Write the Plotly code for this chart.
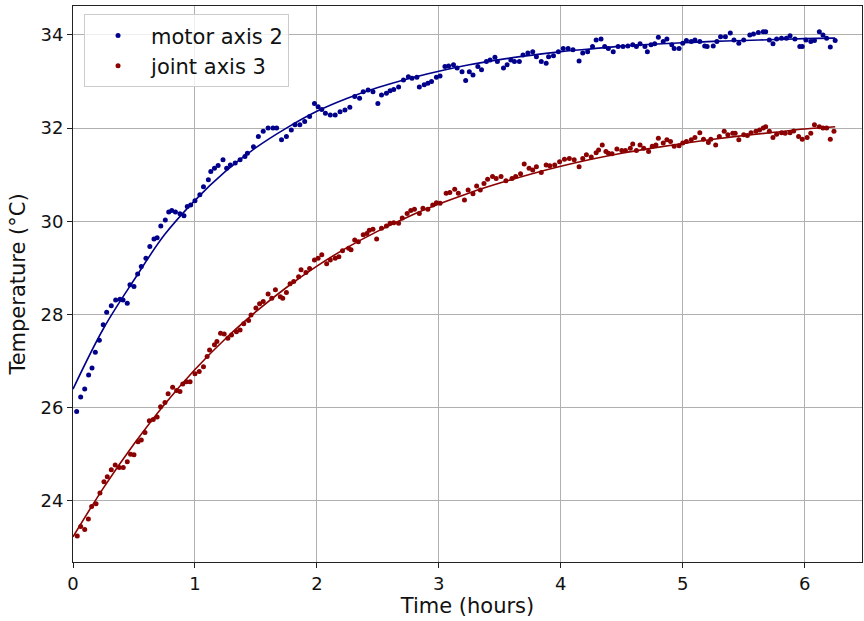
import plotly.graph_objects as go

# Logged temperatures (hours, °C)
motor_t = [0.03, 0.063, 0.096, 0.128, 0.156, 0.183, 0.216, 0.248, 0.276, 0.314, 0.35, 0.385, 0.41, 0.445,
           0.467, 0.5, 0.53, 0.56, 0.598, 0.63, 0.664, 0.69, 0.72, 0.757, 0.785, 0.81, 0.84, 0.877, 0.91,
           0.937, 0.965, 1.0, 1.04, 1.07, 1.11, 1.13, 1.16, 1.19, 1.23, 1.26, 1.29, 1.33, 1.37, 1.41, 1.43,
           1.48, 1.52, 1.56, 1.60, 1.64, 1.67, 1.71, 1.75, 1.79, 1.82, 1.86, 1.90, 1.94, 1.98, 2.01, 2.04,
           2.07, 2.11, 2.15, 2.19, 2.23, 2.27, 2.31, 2.35, 2.38, 2.42, 2.46, 2.50, 2.53, 2.57, 2.60, 2.63,
           2.67, 2.71, 2.75, 2.78, 2.82, 2.84, 2.88, 2.91, 2.94, 2.98, 3.01, 3.05, 3.08, 3.12, 3.15, 3.19,
           3.22, 3.25, 3.28, 3.32, 3.35, 3.39, 3.42, 3.46, 3.48, 3.53, 3.56, 3.59, 3.62, 3.66, 3.69, 3.73,
           3.77, 3.80, 3.84, 3.88, 3.90, 3.94, 3.98, 4.02, 4.06, 4.10, 4.15, 4.18, 4.22, 4.26, 4.29, 4.33,
           4.36, 4.39, 4.43, 4.47, 4.51, 4.55, 4.59, 4.62, 4.65, 4.69, 4.71, 4.74, 4.77, 4.80, 4.84, 4.87,
           4.91, 4.93, 4.97, 5.00, 5.03, 5.07, 5.10, 5.14, 5.18, 5.20, 5.25, 5.28, 5.31, 5.35, 5.39, 5.42,
           5.46, 5.50, 5.55, 5.58, 5.62, 5.66, 5.68, 5.71, 5.74, 5.77, 5.81, 5.85, 5.88, 5.92, 5.96, 5.98,
           6.01, 6.05, 6.08, 6.12, 6.15, 6.18, 6.21, 6.25]
motor_temp = [25.92, 26.23, 26.40, 26.70, 26.85, 27.19, 27.45, 27.78, 28.05, 28.19, 28.31, 28.33, 28.31, 28.24,
              28.64, 28.60, 28.87, 29.03, 29.21, 29.46, 29.62, 29.65, 29.90, 30.03, 30.20, 30.23, 30.20, 30.16,
              30.12, 30.32, 30.35, 30.44, 30.57, 30.74, 30.89, 31.07, 31.14, 31.20, 31.32, 31.14, 31.21, 31.25,
              31.32, 31.39, 31.46, 31.60, 31.82, 31.93, 32.00, 32.00, 32.00, 31.75, 31.82, 31.96, 32.07, 32.07,
              32.14, 32.25, 32.53, 32.46, 32.40, 32.32, 32.28, 32.28, 32.35, 32.39, 32.45, 32.68, 32.64, 32.78,
              32.82, 32.78, 32.53, 32.71, 32.75, 32.80, 32.83, 32.88, 33.03, 33.10, 33.07, 33.09, 32.88, 32.93,
              32.96, 33.00, 33.09, 33.12, 33.32, 33.33, 33.36, 33.29, 33.21, 33.02, 33.21, 33.14, 33.32, 33.25,
              33.43, 33.46, 33.52, 33.43, 33.29, 33.36, 33.46, 33.43, 33.43, 33.57, 33.61, 33.64, 33.53, 33.43,
              33.39, 33.53, 33.55, 33.64, 33.71, 33.71, 33.68, 33.44, 33.61, 33.64, 33.75, 33.89, 33.91, 33.75,
              33.71, 33.64, 33.75, 33.75, 33.76, 33.79, 33.75, 33.81, 33.75, 33.64, 33.79, 33.81, 33.95, 33.86,
              33.91, 33.79, 33.71, 33.71, 33.82, 33.88, 33.86, 33.89, 33.86, 33.76, 33.75, 33.76, 33.86, 33.96,
              33.96, 34.04, 33.89, 33.82, 33.89, 34.00, 34.02, 34.05, 34.07, 34.07, 33.89, 33.81, 33.91, 33.93,
              33.93, 33.98, 33.91, 33.75, 33.75, 33.89, 33.86, 33.88, 34.07, 34.00, 33.93, 33.74, 33.88]

joint_t = [0.035, 0.063, 0.096, 0.126, 0.153, 0.189, 0.221, 0.254, 0.281, 0.314, 0.346, 0.379, 0.412, 0.445,
           0.472, 0.50, 0.533, 0.56, 0.59, 0.626, 0.658, 0.69, 0.718, 0.754, 0.78, 0.817, 0.85, 0.877, 0.90,
           0.93, 0.96, 1.00, 1.035, 1.07, 1.10, 1.12, 1.16, 1.18, 1.21, 1.24, 1.27, 1.30, 1.34, 1.37, 1.40,
           1.44, 1.46, 1.50, 1.53, 1.56, 1.60, 1.63, 1.66, 1.70, 1.72, 1.75, 1.78, 1.81, 1.85, 1.87, 1.91,
           1.94, 1.98, 2.01, 2.04, 2.08, 2.11, 2.15, 2.18, 2.21, 2.26, 2.28, 2.31, 2.34, 2.38, 2.41, 2.43,
           2.46, 2.49, 2.53, 2.57, 2.60, 2.63, 2.67, 2.70, 2.74, 2.77, 2.80, 2.84, 2.87, 2.91, 2.95, 2.98,
           3.01, 3.06, 3.09, 3.13, 3.16, 3.21, 3.24, 3.28, 3.31, 3.34, 3.37, 3.40, 3.44, 3.47, 3.51, 3.55,
           3.60, 3.63, 3.67, 3.70, 3.74, 3.77, 3.80, 3.84, 3.88, 3.91, 3.95, 3.99, 4.03, 4.07, 4.11, 4.15,
           4.18, 4.21, 4.25, 4.29, 4.31, 4.34, 4.37, 4.39, 4.42, 4.46, 4.50, 4.53, 4.57, 4.59, 4.62, 4.65,
           4.68, 4.72, 4.75, 4.78, 4.80, 4.84, 4.87, 4.90, 4.93, 4.97, 5.00, 5.03, 5.07, 5.10, 5.14, 5.17,
           5.21, 5.23, 5.27, 5.30, 5.34, 5.37, 5.41, 5.43, 5.46, 5.50, 5.53, 5.56, 5.60, 5.63, 5.66, 5.68,
           5.71, 5.74, 5.77, 5.81, 5.84, 5.88, 5.91, 5.95, 5.98, 6.02, 6.05, 6.08, 6.12, 6.15, 6.18, 6.21, 6.24]
joint_temp = [23.25, 23.45, 23.39, 23.61, 23.88, 23.94, 24.17, 24.41, 24.52, 24.67, 24.77, 24.72, 24.72, 24.84,
              25.00, 24.99, 25.27, 25.31, 25.47, 25.72, 25.75, 25.80, 26.02, 26.11, 26.30, 26.44, 26.37, 26.35,
              26.51, 26.56, 26.56, 26.73, 26.78, 26.88, 27.10, 27.24, 27.35, 27.42, 27.60, 27.58, 27.49, 27.56,
              27.63, 27.67, 27.80, 27.87, 27.99, 28.14, 28.23, 28.28, 28.44, 28.35, 28.53, 28.38, 28.35, 28.47,
              28.66, 28.71, 28.81, 28.96, 28.90, 28.99, 29.17, 29.21, 29.28, 29.09, 29.17, 29.21, 29.24, 29.37,
              29.42, 29.39, 29.60, 29.56, 29.71, 29.74, 29.81, 29.83, 29.62, 29.85, 29.90, 29.96, 29.97, 29.96,
              30.07, 30.17, 30.23, 30.26, 30.17, 30.28, 30.26, 30.35, 30.40, 30.39, 30.60, 30.62, 30.69, 30.60,
              30.46, 30.67, 30.59, 30.76, 30.67, 30.81, 30.90, 30.96, 30.92, 30.96, 30.87, 30.92, 30.96, 31.02,
              31.23, 31.14, 31.10, 31.17, 31.05, 31.21, 31.19, 31.21, 31.28, 31.33, 31.35, 31.32, 31.17, 31.35,
              31.43, 31.38, 31.47, 31.53, 31.64, 31.50, 31.46, 31.45, 31.55, 31.52, 31.52, 31.57, 31.66, 31.52,
              31.64, 31.57, 31.50, 31.61, 31.64, 31.78, 31.68, 31.75, 31.71, 31.61, 31.62, 31.68, 31.71, 31.75,
              31.80, 31.90, 31.76, 31.69, 31.76, 31.64, 31.82, 31.93, 31.86, 31.89, 31.89, 31.75, 31.86, 31.84,
              31.90, 31.93, 31.96, 32.00, 32.03, 31.93, 31.80, 31.87, 31.90, 31.89, 31.90, 31.94, 31.82, 31.76,
              31.80, 31.89, 32.07, 32.03, 32.00, 32.00, 31.76, 31.93]

# Fitted warm-up curves
fit_t = [0.0, 0.25, 0.5, 0.75, 1.0, 1.25, 1.5, 1.75, 2.0, 2.25, 2.5, 2.75, 3.0, 3.25, 3.5, 3.75, 4.0, 4.25,
         4.5, 4.75, 5.0, 5.25, 5.5, 5.75, 6.0, 6.25]
motor_fit = [26.40, 27.70, 28.74, 29.71, 30.45, 31.07, 31.58, 32.00, 32.36, 32.64, 32.87, 33.06, 33.22, 33.36,
             33.47, 33.56, 33.64, 33.70, 33.76, 33.80, 33.83, 33.86, 33.88, 33.90, 33.92, 33.93]
joint_fit = [23.23, 24.28, 25.22, 26.07, 26.82, 27.48, 28.06, 28.58, 29.04, 29.44, 29.79, 30.10, 30.37, 30.61,
             30.82, 31.01, 31.18, 31.33, 31.46, 31.57, 31.67, 31.76, 31.84, 31.91, 31.98, 32.03]

BLUE = "#00008b"
RED = "#8b0000"
FONT = "DejaVu Sans"
TEXT = "#111111"

fig = go.Figure()
fig.add_trace(go.Scatter(x=motor_t, y=motor_temp, mode="markers", name="motor axis 2",
                         marker=dict(color=BLUE, size=5)))
fig.add_trace(go.Scatter(x=joint_t, y=joint_temp, mode="markers", name="joint axis 3",
                         marker=dict(color=RED, size=5)))
fig.add_trace(go.Scatter(x=fit_t, y=motor_fit, mode="lines", line=dict(color=BLUE, width=1.6, shape="spline"),
                         showlegend=False, hoverinfo="skip"))
fig.add_trace(go.Scatter(x=fit_t, y=joint_fit, mode="lines", line=dict(color=RED, width=1.6, shape="spline"),
                         showlegend=False, hoverinfo="skip"))

axis_common = dict(showline=True, mirror=True, linecolor="#222", linewidth=1,
                   ticks="outside", ticklen=5, tickcolor="#222", tickwidth=1,
                   showgrid=True, gridcolor="#b0b0b0", gridwidth=1, zeroline=False,
                   tickfont=dict(family=FONT, size=18, color=TEXT))

fig.update_xaxes(range=[0, 6.47], tickvals=[0, 1, 2, 3, 4, 5, 6],
                 title=dict(text="Time (hours)", font=dict(family=FONT, size=21, color=TEXT), standoff=2),
                 **axis_common)
fig.update_yaxes(range=[22.69, 34.62], tickvals=[24, 26, 28, 30, 32, 34],
                 title=dict(text="Temperature (°C)", font=dict(family=FONT, size=21, color=TEXT), standoff=9),
                 **axis_common)

fig.update_layout(
    width=864, height=621,
    margin=dict(l=73, r=2, t=6, b=59),
    paper_bgcolor="white", plot_bgcolor="white",
    font=dict(family=FONT, size=18, color=TEXT),
    legend=dict(x=0.014, y=0.985, xanchor="left", yanchor="top",
                bgcolor="rgba(255,255,255,0.8)", bordercolor="#cccccc", borderwidth=1,
                font=dict(family=FONT, size=21, color=TEXT), itemwidth=56,
                tracegroupgap=0),
    showlegend=True,
)

fig.write_html("out.html")
